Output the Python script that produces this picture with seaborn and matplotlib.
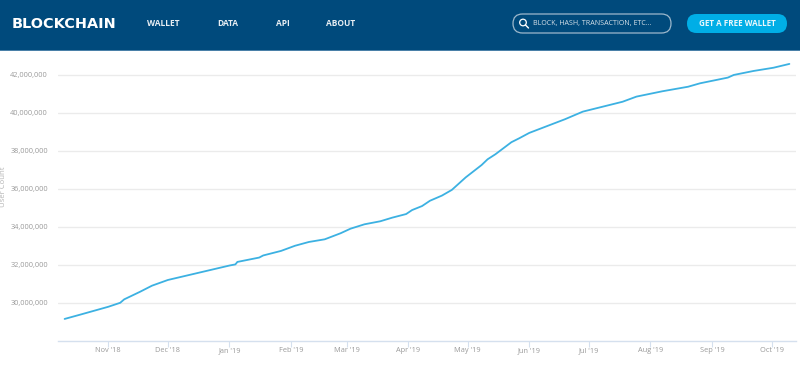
"""
Blockchain wallet users over time, with the site's header bar on top
"""
import pandas as pd
import matplotlib.pyplot as plt
import matplotlib.dates as mdates
import seaborn as sns
from matplotlib.patches import Rectangle, FancyBboxPatch, Circle
from matplotlib.lines import Line2D
from matplotlib.ticker import FuncFormatter

# Values
dates = ['2018-10-10', '2018-10-18', '2018-11-01', '2018-11-07', '2018-11-09', '2018-11-17',
         '2018-11-23', '2018-12-01', '2019-01-01', '2019-01-04', '2019-01-05', '2019-01-16',
         '2019-01-18', '2019-01-27', '2019-02-03', '2019-02-10', '2019-02-18', '2019-02-26',
         '2019-03-03', '2019-03-10', '2019-03-18', '2019-03-24', '2019-03-31', '2019-04-03',
         '2019-04-08', '2019-04-12', '2019-04-18', '2019-04-23', '2019-04-30', '2019-05-08',
         '2019-05-11', '2019-05-15', '2019-05-23', '2019-05-27', '2019-06-01', '2019-06-10',
         '2019-06-19', '2019-06-28', '2019-07-08', '2019-07-18', '2019-07-25', '2019-08-07',
         '2019-08-20', '2019-08-26', '2019-09-09', '2019-09-12', '2019-09-22', '2019-10-02',
         '2019-10-10']
users = [29.14, 29.37, 29.78, 29.99, 30.17, 30.57,
         30.89, 31.19, 31.95, 32.01, 32.14, 32.37,
         32.48, 32.72, 32.99, 33.19, 33.33, 33.65,
         33.89, 34.12, 34.28, 34.47, 34.66, 34.87,
         35.08, 35.36, 35.63, 35.93, 36.59, 37.24,
         37.54, 37.81, 38.44, 38.65, 38.93, 39.29,
         39.65, 40.05, 40.31, 40.57, 40.84, 41.12,
         41.36, 41.54, 41.84, 41.98, 42.19, 42.36,
         42.56]
y_ticks = [30, 32, 34, 36, 38, 40, 42]
x_ticks = ['2018-11-01', '2018-12-01', '2019-01-01', '2019-02-01', '2019-03-01', '2019-04-01',
           '2019-05-01', '2019-06-01', '2019-07-01', '2019-08-01', '2019-09-01', '2019-10-01']
nav_items = ['WALLET', 'DATA', 'API', 'ABOUT']

W, H = 800, 367
HEADER = '#004a7c'
BUTTON = '#00aee6'
TICK_TEXT = '#9a9a9a'

sns.set_style("white")
plt.rcParams['font.family'] = ['Open Sans', 'DejaVu Sans']

df = pd.DataFrame({'date': pd.to_datetime(dates), 'users': [u * 1e6 for u in users]})

fig = plt.figure(figsize=(8, 3.67), dpi=100)
ax = fig.add_axes([58 / W, 1 - 340.5 / H, (796 - 58) / W, (340.5 - 51) / H])

sns.lineplot(data=df, x='date', y='users', ax=ax, color='#3cb1e2', linewidth=1.3, zorder=3)

ax.set_xlim(pd.Timestamp('2018-10-06 16:00'), pd.Timestamp('2019-10-13 08:00'))
ax.set_ylim(28.005e6, 43.24e6)
ax.set_yticks([v * 1e6 for v in y_ticks])
ax.set_xticks(pd.to_datetime(x_ticks))
ax.xaxis.set_major_formatter(mdates.DateFormatter("%b '%y"))
ax.yaxis.set_major_formatter(FuncFormatter(lambda v, p: f'{int(v):,}'))
ax.set_xlabel('')
ax.set_ylabel('')

ax.grid(True, axis='y', color='#ebebeb', linewidth=1)
ax.grid(False, axis='x')
ax.set_axisbelow(True)
for side in ['top', 'left', 'right']:
    ax.spines[side].set_visible(False)
ax.spines['bottom'].set_color('#d5e0ee')
ax.spines['bottom'].set_linewidth(1)
ax.tick_params(axis='x', length=4, width=0.8, color='#d5e0ee', direction='out',
               bottom=True, labelsize=5.3, labelcolor=TICK_TEXT, pad=1)
ax.tick_params(axis='y', length=0, labelsize=5.3, labelcolor=TICK_TEXT, pad=7.2)

fig.text(3.5 / W, 1 - 187 / H, 'User Count', rotation=90, ha='center', va='center',
         fontsize=5.6, color='#b5b5b5')


# Header bar, in pixel coordinates from the top left
def px(x, y):
    return x / W, 1 - y / H


fig.add_artist(Rectangle(px(0, 51), 1, 1 / H, transform=fig.transFigure,
                         facecolor='#4a80a8', edgecolor='none'))
fig.add_artist(Rectangle(px(0, 50), 1, 50 / H, transform=fig.transFigure,
                         facecolor=HEADER, edgecolor='none'))

x_, y_ = px(12, 23.5)
fig.text(x_, y_, 'BLOCKCHAIN', color='white', fontsize=10.4, fontweight='bold',
         family='DejaVu Sans', ha='left', va='center')

for label, x in zip(nav_items, [147, 217, 276, 326]):
    x_, y_ = px(x, 23.5)
    fig.text(x_, y_, label, color='#e8eef3', fontsize=6, fontweight='bold', ha='left', va='center')

# Search box and button drawn in display pixels
fig.add_artist(FancyBboxPatch((513 + 9.5, H - 33 + 9.5), 158 - 19, 0,
                              boxstyle='round,pad=9.5', transform=None,
                              facecolor=HEADER, edgecolor='#9db8cc', linewidth=0.9))
fig.add_artist(Circle((523, H - 22.5), 3.3, transform=None, facecolor='none',
                      edgecolor='white', linewidth=0.9))
fig.add_artist(Line2D([525.5, 528.5], [H - 25, H - 28], transform=None,
                      color='white', linewidth=1))
x_, y_ = px(533, 23.5)
fig.text(x_, y_, 'BLOCK, HASH, TRANSACTION, ETC...', color='#d5e0e8', fontsize=5.15,
         ha='left', va='center')

fig.add_artist(FancyBboxPatch((687 + 9.5, H - 33 + 9.5), 100 - 19, 0,
                              boxstyle='round,pad=9.5', transform=None,
                              facecolor=BUTTON, edgecolor='none'))
x_, y_ = px(737, 23.5)
fig.text(x_, y_, 'GET A FREE WALLET', color='#eaf7fc', fontsize=5.8, fontweight='bold',
         ha='center', va='center')

plt.savefig('out.png', dpi=100)
print("Saved: out.png")
